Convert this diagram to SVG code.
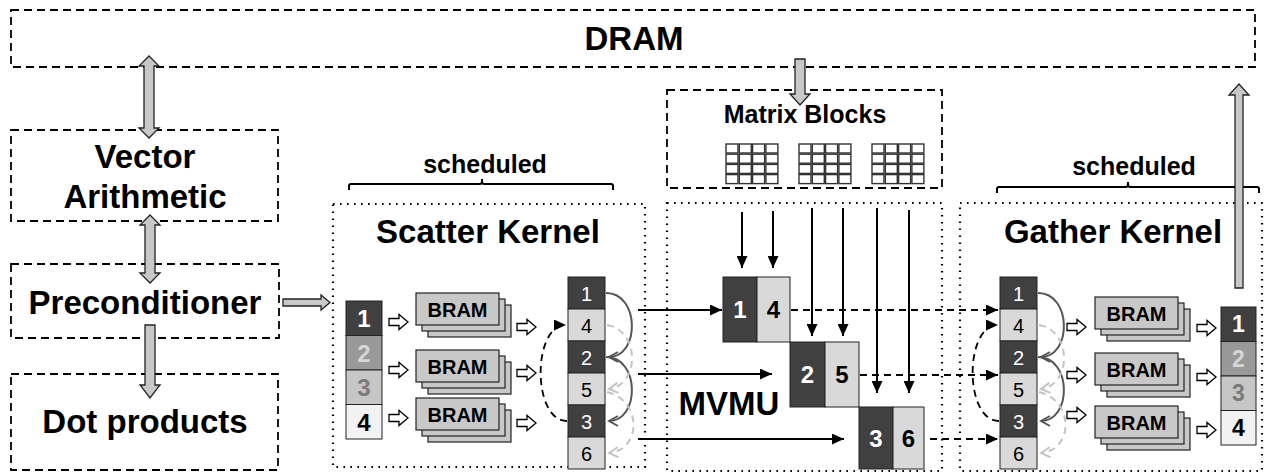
<svg xmlns="http://www.w3.org/2000/svg" xmlns:xlink="http://www.w3.org/1999/xlink" width="1266" height="474" viewBox="0 0 1266 474">
<style>
text{font-family:"Liberation Sans",Arial,sans-serif;text-anchor:middle}
.big{font-size:33px;font-weight:bold;fill:#000}
.mid{font-size:25px;font-weight:bold;fill:#000}
.bram{font-size:20px;font-weight:bold;fill:#000}
.dash{fill:none;stroke:#000;stroke-width:1.8;stroke-dasharray:8 5}
.dot{fill:none;stroke:#000;stroke-width:2.2;stroke-dasharray:1.6 5.4}
.blk{fill:#c8c8c8;stroke:#222;stroke-width:1.3}
.ha{fill:#fff;stroke:#000;stroke-width:1.3}
.dk{fill:#404040;stroke:#222;stroke-width:1}
.lt{fill:#d9d9d9;stroke:#222;stroke-width:1}
.nw{font-size:20px;fill:#fff}
.nb{font-size:20px;fill:#000}
.bw{font-size:24px;font-weight:bold;fill:#fff}
.bb{font-size:24px;font-weight:bold;fill:#000}
.ln{fill:none;stroke:#000;stroke-width:2}
.lnd{fill:none;stroke:#000;stroke-width:2;stroke-dasharray:7 5}
.cs{fill:none;stroke:#555;stroke-width:2}
.cl{fill:none;stroke:#c4c4c4;stroke-width:2;stroke-dasharray:7 5}
.cb{fill:none;stroke:#000;stroke-width:1.8;stroke-dasharray:7 5}
.brace{fill:none;stroke:#000;stroke-width:2}
.gc{fill:#fff;stroke:#333;stroke-width:1.4}
</style>
<defs>
<marker id="tri" markerUnits="userSpaceOnUse" markerWidth="13" markerHeight="11" refX="12" refY="5.5" orient="auto"><path d="M0,0 L12,5.5 L0,11 Z" fill="#000"/></marker>
<marker id="chd" markerUnits="userSpaceOnUse" markerWidth="12" markerHeight="12" refX="10" refY="6" orient="auto"><path d="M1,1 L10,6 L1,11" fill="none" stroke="#555" stroke-width="2"/></marker>
<marker id="chl" markerUnits="userSpaceOnUse" markerWidth="12" markerHeight="12" refX="10" refY="6" orient="auto"><path d="M1,1 L10,6 L1,11" fill="none" stroke="#c4c4c4" stroke-width="2"/></marker>
<path id="harrow" class="ha" d="M0,-3.5 L10,-3.5 L10,-7.5 L19,0 L10,7.5 L10,3.5 L0,3.5 Z"/>
<g id="bramstack">
<rect x="12" y="12" width="83" height="32" fill="#c8c8c8" stroke="#222" stroke-width="1.2"/>
<rect x="6" y="6" width="83" height="32" fill="#c8c8c8" stroke="#222" stroke-width="1.2"/>
<rect x="0" y="0" width="83" height="32" fill="#c8c8c8" stroke="#222" stroke-width="1.2"/>
<text x="41.5" y="23.5" class="bram">BRAM</text>
</g>
<g id="grid">
<rect x="0" y="0" width="12" height="9" class="gc"/><rect x="13.3" y="0" width="12" height="9" class="gc"/><rect x="26.6" y="0" width="12" height="9" class="gc"/><rect x="39.9" y="0" width="12" height="9" class="gc"/>
<rect x="0" y="10.2" width="12" height="9" class="gc"/><rect x="13.3" y="10.2" width="12" height="9" class="gc"/><rect x="26.6" y="10.2" width="12" height="9" class="gc"/><rect x="39.9" y="10.2" width="12" height="9" class="gc"/>
<rect x="0" y="20.4" width="12" height="9" class="gc"/><rect x="13.3" y="20.4" width="12" height="9" class="gc"/><rect x="26.6" y="20.4" width="12" height="9" class="gc"/><rect x="39.9" y="20.4" width="12" height="9" class="gc"/>
<rect x="0" y="30.6" width="12" height="9" class="gc"/><rect x="13.3" y="30.6" width="12" height="9" class="gc"/><rect x="26.6" y="30.6" width="12" height="9" class="gc"/><rect x="39.9" y="30.6" width="12" height="9" class="gc"/>
</g>
<g id="col6">
<rect x="0" y="0" width="37" height="32" class="dk"/><text x="18.5" y="23.5" class="nw">1</text>
<rect x="0" y="32" width="37" height="32" class="lt"/><text x="18.5" y="55.5" class="nb">4</text>
<rect x="0" y="64" width="37" height="32" class="dk"/><text x="18.5" y="87.5" class="nw">2</text>
<rect x="0" y="96" width="37" height="32" class="lt"/><text x="18.5" y="119.5" class="nb">5</text>
<rect x="0" y="128" width="37" height="32" class="dk"/><text x="18.5" y="151.5" class="nw">3</text>
<rect x="0" y="160" width="37" height="32" class="lt"/><text x="18.5" y="183.5" class="nb">6</text>
</g>
</defs>

<g id="dram">
<rect x="11" y="10" width="1244" height="57" class="dash"/>
<text x="634" y="50" class="big">DRAM</text>
</g>

<g id="vector-arithmetic">
<rect x="11" y="130" width="267" height="91" class="dash"/>
<text x="145" y="168" class="big">Vector</text>
<text x="145" y="208" class="big">Arithmetic</text>
</g>

<g id="preconditioner">
<rect x="11" y="264" width="268" height="74" class="dash"/>
<text x="145" y="314" class="big">Preconditioner</text>
</g>

<g id="dot-products">
<rect x="11" y="374" width="267" height="96" class="dash"/>
<text x="145" y="433" class="big">Dot products</text>
</g>

<g id="matrix-blocks">
<rect x="667" y="90" width="275" height="98" class="dash"/>
<text x="805" y="123" class="mid">Matrix Blocks</text>
<use href="#grid" x="726" y="144"/>
<use href="#grid" x="799" y="144"/>
<use href="#grid" x="872" y="144"/>
</g>

<g id="scatter-kernel">
<path class="brace" d="M349,190 L349,186 Q349,184 351,184 L480,184 Q482,184 482,181 L482,179 M482,181 Q482,184 484,184 L611,184 Q613,184 613,186 L613,190"/>
<text x="485" y="173" class="mid">scheduled</text>
<rect x="333" y="204" width="312" height="263" class="dot"/>
<text x="488" y="243" class="big">Scatter Kernel</text>
<rect x="346" y="301" width="36" height="34.5" fill="#404040" stroke="#222"/>
<text x="364" y="327" class="bw">1</text>
<rect x="346" y="335.5" width="36" height="34.5" fill="#999" stroke="#222"/>
<text x="364" y="361.5" class="bb" style="fill:#d6d6d6">2</text>
<rect x="346" y="370" width="36" height="34.5" fill="#c6c6c6" stroke="#222"/>
<text x="364" y="396" class="bb" style="fill:#7a7a7a">3</text>
<rect x="346" y="404.5" width="36" height="34.5" fill="#f2f2f2" stroke="#222"/>
<text x="364" y="430.5" class="bb">4</text>
<use href="#bramstack" x="416" y="293"/>
<use href="#bramstack" x="416" y="350"/>
<use href="#bramstack" x="416" y="398"/>
<use href="#harrow" x="389" y="322"/>
<use href="#harrow" x="389" y="370"/>
<use href="#harrow" x="389" y="418"/>
<use href="#harrow" x="517" y="327"/>
<use href="#harrow" x="517" y="373"/>
<use href="#harrow" x="517" y="423"/>
<use href="#col6" x="568" y="277"/>
</g>

<g id="mvmu">
<rect x="667" y="203" width="275" height="268" class="dot"/>
<text x="729" y="415" class="big">MVMU</text>
<rect x="723" y="277" width="34" height="65" class="dk"/><rect x="757" y="277" width="33" height="65" class="lt"/>
<text x="740" y="318" class="bw">1</text><text x="773.5" y="318" class="bb">4</text>
<rect x="790" y="342" width="35" height="65" class="dk"/><rect x="825" y="342" width="34" height="65" class="lt"/>
<text x="807.5" y="383" class="bw">2</text><text x="842" y="383" class="bb">5</text>
<rect x="859" y="407" width="34" height="62" class="dk"/><rect x="893" y="407" width="31" height="62" class="lt"/>
<text x="876" y="447" class="bw">3</text><text x="908.5" y="447" class="bb">6</text>
</g>

<g id="gather-kernel">
<path class="brace" d="M997,193 L997,189 Q997,187 999,187 L1126,187 Q1128,187 1128,184 L1128,182 M1128,184 Q1128,187 1130,187 L1257,187 Q1259,187 1259,189 L1259,193"/>
<text x="1134" y="175" class="mid">scheduled</text>
<rect x="960" y="203" width="302" height="268" class="dot"/>
<text x="1113" y="243" class="big">Gather Kernel</text>
<use href="#col6" x="1000" y="277"/>
<use href="#bramstack" x="1095" y="297"/>
<use href="#bramstack" x="1095" y="353"/>
<use href="#bramstack" x="1095" y="406"/>
<use href="#harrow" x="1067" y="327"/>
<use href="#harrow" x="1067" y="375"/>
<use href="#harrow" x="1067" y="415"/>
<use href="#harrow" x="1197" y="328"/>
<use href="#harrow" x="1197" y="377"/>
<use href="#harrow" x="1197" y="430"/>
<rect x="1221" y="307" width="35" height="34.5" fill="#404040" stroke="#222"/>
<text x="1238.5" y="332" class="bw" style="font-size:23px">1</text>
<rect x="1221" y="341.5" width="35" height="34.5" fill="#999" stroke="#222"/>
<text x="1238.5" y="366.5" class="bb" style="font-size:23px;fill:#d6d6d6">2</text>
<rect x="1221" y="376" width="35" height="34.5" fill="#c6c6c6" stroke="#222"/>
<text x="1238.5" y="401" class="bb" style="font-size:23px;fill:#7a7a7a">3</text>
<rect x="1221" y="410.5" width="35" height="34.5" fill="#f2f2f2" stroke="#222"/>
<text x="1238.5" y="435.5" class="bb" style="font-size:23px">4</text>
</g>

<g id="connectors">
<polygon class="blk" points="149,56 159,66 154,66 154,128 159,128 149,138 139,128 144,128 144,66 139,66"/>
<polygon class="blk" points="150,215 160,225 155,225 155,273 160,273 150,283 140,273 145,273 145,225 140,225"/>
<polygon class="blk" points="145,325 155,325 155,385 160,385 150,398 140,385 145,385"/>
<polygon class="blk" points="283,299 321,299 321,295 330,302.5 321,310 321,306 283,306"/>
<polygon class="blk" points="795,59 805,59 805,94 810,94 800,105 790,94 795,94"/>
<polygon class="blk" points="1235,288 1235,95 1229,95 1239,84 1249,95 1243,95 1243,288"/>

<path class="cs" d="M606,293 C640,293 640,357 609,357" marker-end="url(#chd)"/>
<path class="cs" d="M606,357 C640,357 640,421 609,421" marker-end="url(#chd)"/>
<path class="cl" d="M607,325 C640,330 640,385 609,389" marker-end="url(#chl)"/>
<path class="cl" d="M607,392 C642,400 642,450 609,453" marker-end="url(#chl)"/>
<path class="cb" d="M567,421 C532,421 532,325 566,325" marker-end="url(#tri)"/>

<path class="cs" d="M1038,293 C1072,293 1072,357 1041,357" marker-end="url(#chd)"/>
<path class="cs" d="M1038,357 C1072,357 1072,421 1041,421" marker-end="url(#chd)"/>
<path class="cl" d="M1039,325 C1072,330 1072,385 1041,389" marker-end="url(#chl)"/>
<path class="cl" d="M1039,392 C1074,400 1074,450 1041,453" marker-end="url(#chl)"/>
<path class="cb" d="M999,421 C964,421 964,325 998,325" marker-end="url(#tri)"/>

<path class="ln" d="M638,310 L722,310" marker-end="url(#tri)"/>
<path class="ln" d="M638,374 L772,374" marker-end="url(#tri)"/>
<path class="ln" d="M638,439 L844,439" marker-end="url(#tri)"/>

<path class="lnd" d="M791,310 L998,310" marker-end="url(#tri)"/>
<path class="lnd" d="M860,375 L998,375" marker-end="url(#tri)"/>
<path class="lnd" d="M930,439 L998,439" marker-end="url(#tri)"/>

<path class="ln" d="M742,212 L742,268" marker-end="url(#tri)"/>
<path class="ln" d="M773,211 L773,268" marker-end="url(#tri)"/>
<path class="ln" d="M812,208 L812,336" marker-end="url(#tri)"/>
<path class="ln" d="M843,208 L843,336" marker-end="url(#tri)"/>
<path class="ln" d="M877,208 L877,393" marker-end="url(#tri)"/>
<path class="ln" d="M909,210 L909,393" marker-end="url(#tri)"/>
</g>
</svg>
